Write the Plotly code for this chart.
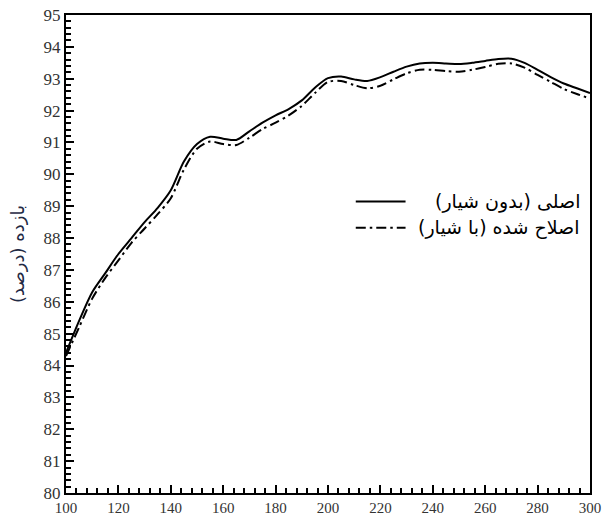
import plotly.graph_objects as go

# Efficiency vs. x, two configurations
x_vals = [100, 105, 110, 115, 120, 125, 130, 135, 140, 145, 150, 155, 160, 165,
          170, 175, 180, 185, 190, 195, 200, 205, 210, 215, 220, 225, 230, 235,
          240, 245, 250, 255, 260, 265, 270, 275, 280, 285, 290, 295, 300]

original = [84.4, 85.4, 86.3, 86.9, 87.5, 88.0, 88.5, 88.95, 89.5, 90.4, 90.95,
            91.18, 91.12, 91.08, 91.35, 91.62, 91.85, 92.05, 92.32, 92.72, 93.02,
            93.07, 92.98, 92.93, 93.05, 93.22, 93.38, 93.48, 93.5, 93.48, 93.46,
            93.5, 93.56, 93.62, 93.63, 93.5, 93.28, 93.05, 92.85, 92.7, 92.55]

modified = [84.3, 85.2, 86.1, 86.75, 87.3, 87.85, 88.3, 88.75, 89.25, 90.15, 90.8,
            91.03, 90.95, 90.92, 91.15, 91.42, 91.62, 91.85, 92.15, 92.55, 92.9,
            92.93, 92.8, 92.7, 92.78, 92.98, 93.17, 93.28, 93.28, 93.24, 93.22,
            93.28, 93.37, 93.47, 93.48, 93.35, 93.12, 92.9, 92.68, 92.52, 92.38]

series_names = ["اصلی (بدون شیار)", "اصلاح شده (با شیار)"]
y_title = "بازده (درصد)"

DASHDOT = "10px,4px,2.5px,4px"
dashes = ["solid", DASHDOT]

fig = go.Figure()
for name, ys, dash in zip(series_names, [original, modified], dashes):
    fig.add_trace(go.Scatter(
        x=x_vals, y=ys, mode="lines", name=name,
        line=dict(color="black", width=2, dash=dash, shape="spline", smoothing=0.8),
        showlegend=False,
    ))

# Hand-built legend: sample line on the left, label right-aligned
legend_rows = [0.61, 0.555]
for name, dash, yy in zip(series_names, dashes, legend_rows):
    fig.add_shape(type="line", xref="x domain", yref="y domain",
                  x0=0.553, x1=0.648, y0=yy, y1=yy,
                  line=dict(color="black", width=2, dash=dash))
    fig.add_annotation(xref="x domain", yref="y domain", x=0.985, y=yy,
                       text=name, showarrow=False, xanchor="right", yanchor="middle",
                       font=dict(family="DejaVu Sans", size=19, color="black"))

axis_common = dict(
    showline=True, linecolor="black", linewidth=2, mirror=True,
    ticks="inside", ticklen=8, tickwidth=2, tickcolor="black",
    showgrid=False, zeroline=False, automargin=False,
    ticklabeloverflow="allow",
)

fig.update_xaxes(range=[100, 300], dtick=20, tick0=100,
                 tickfont=dict(family="Liberation Serif", size=15, color="#333333"),
                 minor=dict(dtick=4, ticks="inside", ticklen=5, tickwidth=1.5,
                            tickcolor="black", showgrid=False),
                 **axis_common)
fig.update_yaxes(range=[80, 95], dtick=1, tick0=80,
                 tickfont=dict(family="Liberation Serif", size=17, color="#333333"),
                 minor=dict(dtick=0.2, ticks="inside", ticklen=5, tickwidth=1.5,
                            tickcolor="black", showgrid=False),
                 title=dict(text=y_title, standoff=14,
                            font=dict(family="DejaVu Sans", size=18, color="#1f2a44")),
                 **axis_common)

fig.update_layout(
    width=604, height=517,
    margin=dict(l=66, r=14, t=15, b=24),
    plot_bgcolor="white", paper_bgcolor="white",
)

fig.write_html("out.html")
